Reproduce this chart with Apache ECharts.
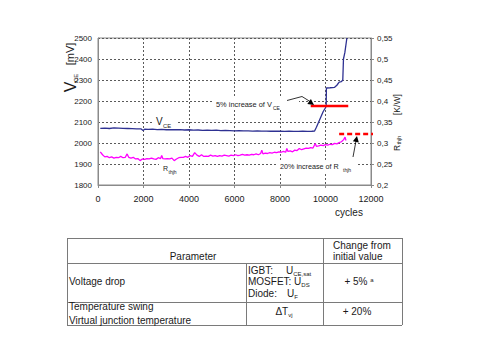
<!DOCTYPE html>
<html>
<head>
<meta charset="utf-8">
<script src="https://cdn.jsdelivr.net/npm/echarts@6/dist/echarts.min.js"></script>
<style>
  html, body { margin: 0; padding: 0; background: #fff; }
  #wrap { position: relative; width: 480px; height: 360px; overflow: hidden; background: #fff; }
  #chart { position: absolute; left: 0; top: 0; width: 480px; height: 360px; }
  #tbl { position: absolute; left: 0; top: 0; width: 480px; height: 360px; pointer-events: none;
         font-family: 'Liberation Sans', Arial, sans-serif; color: #1a1a1a; font-size: 10px; }
  .hl { position: absolute; height: 0; border-top: 1px solid #7a7a7a; }
  .vl { position: absolute; width: 0; border-left: 1px solid #7a7a7a; }
  .t { position: absolute; white-space: nowrap; line-height: 1; transform: translate(0, -50%); }
  .c { transform: translate(-50%, -50%); }
  sub { font-size: 6px; vertical-align: -2px; line-height: 0; }
  sup { font-size: 6px; vertical-align: 3px; line-height: 0; }
</style>
</head>
<body>
<div id="wrap">
  <div id="chart"></div>
  <div id="tbl">
    <div class="hl" style="left:67px;top:238px;width:335px"></div>
    <div class="hl" style="left:67px;top:263px;width:335px"></div>
    <div class="hl" style="left:67px;top:302px;width:335px"></div>
    <div class="hl" style="left:67px;top:325px;width:335px"></div>
    <div class="vl" style="left:67px;top:238px;height:87px"></div>
    <div class="vl" style="left:402px;top:238px;height:87px"></div>
    <div class="vl" style="left:323px;top:238px;height:87px"></div>
    <div class="vl" style="left:246px;top:263px;height:62px"></div>

    <div class="t c" style="left:193px;top:257px">Parameter</div>
    <div class="t" style="left:333px;top:246px">Change from</div>
    <div class="t" style="left:333px;top:257px">initial value</div>

    <div class="t" style="left:69px;top:282px">Voltage drop</div>
    <div class="t" style="left:248px;top:271px">IGBT:</div>
    <div class="t" style="left:286px;top:271px">U<sub>CE,sat</sub></div>
    <div class="t" style="left:248px;top:282px">MOSFET: U<sub>DS</sub></div>
    <div class="t" style="left:248px;top:294px">Diode:</div>
    <div class="t" style="left:287px;top:294px">U<sub>F</sub></div>
    <div class="t c" style="left:359px;top:282px">+ 5% <sup>a</sup></div>

    <div class="t" style="left:69px;top:307px">Temperature swing</div>
    <div class="t" style="left:69px;top:321px">Virtual junction temperature</div>
    <div class="t c" style="left:284px;top:312px">ΔT<sub>vj</sub></div>
    <div class="t c" style="left:357px;top:312px">+ 20%</div>
  </div>
</div>
<script>
// ---- data ----
const xTicks = [0, 2000, 4000, 6000, 8000, 10000, 12000];
const leftTicks = [1800, 1900, 2000, 2100, 2200, 2300, 2400, 2500];
const rightTicks = [0.2, 0.25, 0.3, 0.35, 0.4, 0.45, 0.5, 0.55];

const vceCycles = [100, 300, 500, 700, 900, 1100, 1300, 1500, 1700, 1900, 1980, 2050, 2200, 2400, 2600, 2800,
  3000, 3200, 3400, 3600, 3800, 4000, 4200, 4400, 4600, 4800, 5000, 5200, 5400, 5600, 5800, 6000, 6200, 6400,
  6600, 6800, 7000, 7200, 7400, 7600, 7800, 8000, 8200, 8400, 8600, 8800, 9000, 9200, 9400, 9520, 9600, 9700,
  9800, 9900, 10000, 10030, 10040, 10200, 10400, 10500, 10600, 10700, 10760, 10790, 10850, 10940];
const vceValues = [2070, 2071, 2069, 2072, 2071, 2070, 2069, 2068, 2067, 2067, 2060, 2066, 2065, 2066, 2064, 2065,
  2063, 2064, 2063, 2064, 2062, 2063, 2061, 2062, 2060, 2061, 2060, 2061, 2059, 2060, 2059, 2058, 2059, 2058,
  2058, 2057, 2058, 2057, 2057, 2056, 2057, 2056, 2055, 2056, 2055, 2055, 2056, 2055, 2056, 2057, 2075, 2100,
  2125, 2150, 2168, 2175, 2262, 2263, 2265, 2275, 2290, 2292, 2300, 2400, 2430, 2500];

const rthCycles = [100, 200, 300, 400, 500, 600, 700, 800, 900, 1000, 1100, 1200, 1280, 1350, 1450, 1550, 1650,
  1750, 1850, 1950, 2050, 2150, 2250, 2350, 2450, 2550, 2650, 2750, 2800, 2850, 2950, 3050, 3150, 3250, 3350,
  3450, 3550, 3650, 3750, 3850, 3950, 4050, 4150, 4250, 4350, 4450, 4550, 4650, 4750, 4850, 4950, 5050, 5150,
  5250, 5350, 5450, 5550, 5650, 5750, 5850, 5950, 6050, 6150, 6250, 6350, 6450, 6550, 6650, 6750, 6850, 6950,
  7050, 7150, 7200, 7250, 7350, 7450, 7550, 7650, 7750, 7850, 7950, 8050, 8150, 8250, 8300, 8350, 8450, 8550,
  8650, 8750, 8850, 8950, 9050, 9150, 9250, 9350, 9450, 9550, 9600, 9700, 9800, 9900, 10000, 10100, 10200,
  10300, 10400, 10500, 10600, 10700, 10800, 10860, 10900];
const rthValues = [0.279, 0.272, 0.267, 0.268, 0.265, 0.267, 0.264, 0.266, 0.265, 0.268, 0.265, 0.266, 0.274,
  0.266, 0.264, 0.266, 0.262, 0.263, 0.258, 0.262, 0.261, 0.263, 0.262, 0.264, 0.262, 0.261, 0.265, 0.263, 0.270,
  0.263, 0.262, 0.263, 0.262, 0.264, 0.258, 0.262, 0.265, 0.266, 0.266, 0.268, 0.266, 0.270, 0.268, 0.277, 0.271,
  0.268, 0.272, 0.268, 0.269, 0.268, 0.271, 0.269, 0.270, 0.268, 0.270, 0.269, 0.271, 0.270, 0.269, 0.271, 0.270,
  0.272, 0.270, 0.271, 0.273, 0.271, 0.272, 0.271, 0.273, 0.272, 0.274, 0.272, 0.275, 0.283, 0.274, 0.276, 0.275,
  0.277, 0.276, 0.278, 0.277, 0.279, 0.278, 0.280, 0.278, 0.287, 0.280, 0.281, 0.279, 0.283, 0.282, 0.287, 0.284,
  0.286, 0.288, 0.287, 0.289, 0.288, 0.299, 0.292, 0.293, 0.295, 0.294, 0.296, 0.295, 0.297, 0.296, 0.299, 0.298,
  0.301, 0.303, 0.308, 0.314, 0.306];

// threshold markers: 5 % above initial V_CE, 20 % above initial R_thjh
const vceLimitCycles = [9350, 11000];
const vceLimitValues = [2176, 2176];
const rthLimitCycles = [10600, 12920];
const rthLimitValues = [0.3215, 0.3215];

// ---- build ----
const zip = (a, b) => a.map((v, i) => [v, b[i]]);
const FONT = 'Liberation Sans, Arial, sans-serif';
const chart = echarts.init(document.getElementById('chart'), null, { renderer: 'svg' });
const gridColor = '#5a5a5a';
const axisColor = '#8a8a8a';

function txt(text, x, y, size, align, extra) {
  return Object.assign({
    type: 'text', x: x, y: y, z: 5,
    style: { text: text, font: size + 'px ' + FONT, fill: '#1a1a1a', textAlign: align || 'left', textVerticalAlign: 'middle' }
  }, extra || {});
}
function rect(x, y, w, h) {
  return { type: 'rect', z: 1, shape: { x: x, y: y, width: w, height: h }, style: { fill: '#fff' } };
}

const option = {
  animation: false,
  backgroundColor: '#fff',
  textStyle: { fontFamily: FONT },
  grid: { left: 98, top: 38, width: 273, height: 147, show: true, borderColor: axisColor, borderWidth: 1 },
  xAxis: {
    type: 'value', min: xTicks[0], max: xTicks[xTicks.length - 1], interval: xTicks[1] - xTicks[0],
    axisLine: { show: true, lineStyle: { color: axisColor } },
    axisTick: { show: true, length: 3, lineStyle: { color: axisColor } },
    axisLabel: { color: '#1a1a1a', fontSize: 9, margin: 9, formatter: v => String(v) },
    splitLine: { show: true, lineStyle: { color: gridColor, type: [2, 2], width: 1 } }
  },
  yAxis: [{
    type: 'value', position: 'left', min: leftTicks[0], max: leftTicks[leftTicks.length - 1],
    interval: leftTicks[1] - leftTicks[0],
    axisLine: { show: true, lineStyle: { color: axisColor } },
    axisTick: { show: false },
    axisLabel: { color: '#1a1a1a', fontSize: 8, margin: 6, formatter: v => String(v) },
    splitLine: { show: true, lineStyle: { color: gridColor, type: [2, 2], width: 1 } }
  }, {
    type: 'value', position: 'right', min: rightTicks[0], max: rightTicks[rightTicks.length - 1],
    interval: 0.05,
    axisLine: { show: true, lineStyle: { color: axisColor } },
    axisTick: { show: true, length: 3, lineStyle: { color: axisColor } },
    axisLabel: { color: '#1a1a1a', fontSize: 8, margin: 6,
      formatter: v => String(parseFloat(v.toFixed(2))).replace('.', ',') },
    splitLine: { show: false }
  }],
  series: [{
    name: 'VCE', type: 'line', yAxisIndex: 0, data: zip(vceCycles, vceValues), symbol: 'none',
    lineStyle: { color: '#2e3192', width: 1.3 }, z: 3
  }, {
    name: 'Rthjh', type: 'line', yAxisIndex: 1, data: zip(rthCycles, rthValues), symbol: 'none',
    lineStyle: { color: '#ff00ff', width: 1.3 }, z: 3
  }, {
    name: 'VCE +5%', type: 'line', yAxisIndex: 0, data: zip(vceLimitCycles, vceLimitValues), symbol: 'none',
    lineStyle: { color: '#ff0000', width: 2.5 }, z: 4
  }, {
    name: 'Rth +20%', type: 'line', yAxisIndex: 1, data: zip(rthLimitCycles, rthLimitValues), symbol: 'none',
    clip: false, lineStyle: { color: '#ff0000', width: 2.5, type: [5, 3] }, z: 4
  }],
  graphic: [
    // left axis title V_CE [mV]
    { type: 'group', x: 70, y: 65, rotation: Math.PI / 2, children: [
      txt('V', -22, 0, 16, 'center'),
      txt('CE', -13, 6, 6, 'center'),
      txt('[mV]', 11, 0, 11, 'center')
    ] },
    // right axis title R_thjh [K/W]
    { type: 'group', x: 397, y: 151, rotation: Math.PI / 2, children: [
      txt('R', 0, 0, 8.5, 'left'),
      txt('thjh', 6.5, 2, 5.5, 'left'),
      txt('[K/W]', 36, 0, 8.5, 'left')
    ] },
    // series labels
    rect(153, 116, 24, 12),
    txt('V', 156, 121.5, 10, 'left'),
    txt('CE', 163, 126, 5.8, 'left'),
    rect(159, 160, 22, 14),
    txt('R', 163, 168, 7, 'left'),
    txt('thjh', 168.5, 171.5, 5, 'left'),
    // 5% annotation
    rect(213, 97, 86, 13),
    txt('5% increase of V', 216, 104.5, 7.4, 'left'),
    txt('CE', 273, 108, 5, 'left'),
    { type: 'polyline', z: 6, shape: { points: [[287, 100.5], [302, 96.5], [310, 101.5]] },
      style: { stroke: '#000', lineWidth: 0.8, fill: null } },
    { type: 'polygon', z: 6, shape: { points: [[314, 105], [307.3, 103.9], [310.9, 99.1]] }, style: { fill: '#000' } },
    // 20% annotation
    rect(278, 160, 78, 13),
    txt('20% increase of R', 280, 166.5, 7.2, 'left'),
    txt('thjh', 343, 169.5, 5, 'left'),
    { type: 'line', z: 6, shape: { x1: 353, y1: 157, x2: 356, y2: 141 }, style: { stroke: '#000', lineWidth: 0.8 } },
    { type: 'polygon', z: 6, shape: { points: [[357, 136], [358.8, 142.5], [352.9, 141.3]] }, style: { fill: '#000' } },
    // x axis name
    txt('cycles', 349, 212, 10, 'center')
  ]
};
chart.setOption(option);
</script>
</body>
</html>
